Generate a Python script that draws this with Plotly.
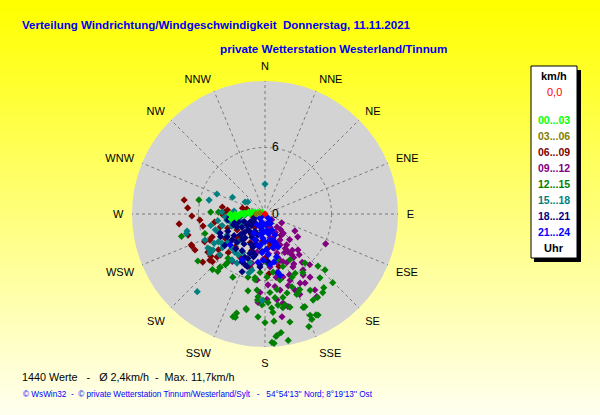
import plotly.graph_objects as go

# ---------------- data (direction in degrees clockwise from N, speed km/h) ----------------
compass = ["N", "NNE", "NE", "ENE", "E", "ESE", "SE", "SSE",
           "S", "SSW", "SW", "WSW", "W", "WNW", "NW", "NNW"]
compass_deg = [0, 22.5, 45, 67.5, 90, 112.5, 135, 157.5,
               180, 202.5, 225, 247.5, 270, 292.5, 315, 337.5]
radial_ticks = [0, 6]

legend_labels = ["00...03", "03...06", "06...09", "09...12",
                 "12...15", "15...18", "18...21", "21...24"]

maroon_dir = [279.8, 274.5, 263.4, 268.4, 242.8, 247.3, 244.7, 227.8, 227.7, 232.5,
              279.2, 272.9, 223.5, 227.1, 229.2, 273.8, 256, 254.7, 246.3, 259,
              245.3, 246.5, 232.1, 253.9, 249.3, 268.6, 276, 284.6, 285.5, 243.4,
              227.5, 195.5, 210.2, 232.3, 230.1, 236.3, 228.1, 176.2, 165.2, 217.6,
              156, 170.2, 207.4, 229.6, 240.3, 142.7, 175, 186.1, 160.3, 264.7, 260.9,
              200, 215, 190, 180, 222, 238]
maroon_spd = [7.4, 7.0, 7.8, 6.6, 7.1, 7.2, 5.5, 6.4, 5.5, 5.3,
              3.9, 3.6, 4.8, 3.4, 2.6, 1.4, 1.1, 7.2, 7.2, 5.7,
              6.0, 5.2, 6.2, 4.2, 3.6, 3.8, 3.4, 2.1, 1.7, 1.2,
              1.5, 5.0, 4.5, 7.1, 6.5, 6.2, 5.8, 5.4, 4.9, 1.5,
              1.8, 2.7, 2.9, 3.2, 2.9, 2.4, 3.1, 2.5, 2.7, 5.9, 4.6,
              3.5, 2.2, 1.8, 4.0, 4.0, 4.2]

purple_dir = [119.5, 116.2, 137.5, 143.1, 145.8, 144.5, 147.9, 146.7, 156.6, 156.5,
              168.8, 172.2, 186.9, 183.6, 184.5, 178.7, 170.6, 168.6, 172.1, 166.1,
              158.5, 159.3, 164.1, 168.5, 174.6, 162, 155.8, 152.2, 152.9, 162.9,
              166.4, 150, 152.2, 159, 137.3, 161.6, 117.9, 136.5, 136.1, 166.2,
              182.5, 194.9, 214.5, 191.9, 124.9, 154.2, 149.5, 148.8, 146.6, 146.6,
              163.5, 159.4, 161.6, 150.9, 141, 130.6, 138.6, 142.4, 177.6, 153.1, 149.9,
              150, 158, 165, 145, 170, 155, 140, 162, 175, 148, 135, 168]
purple_spd = [3.1, 6.1, 4.4, 4.1, 6.1, 7.0, 8.8, 8.2, 7.9, 7.5,
              7.0, 6.6, 6.0, 7.1, 8.0, 7.7, 9.4, 8.2, 7.8, 8.6,
              7.4, 6.4, 5.9, 5.4, 4.8, 4.4, 4.8, 5.4, 3.9, 3.7,
              3.1, 2.7, 1.9, 1.3, 1.6, 0.9, 1.7, 2.4, 3.2, 4.5,
              4.1, 4.6, 5.2, 3.5, 3.6, 3.1, 3.6, 4.0, 4.4, 4.7,
              4.1, 4.6, 2.3, 1.9, 2.4, 0.8, 6.1, 5.5, 6.4, 7.0, 7.2,
              5.2, 5.9, 3.2, 3.4, 5.8, 3.0, 4.8, 6.8, 3.6, 6.5, 2.0, 2.2]

green_dir = [282, 255, 252, 235, 237, 220, 219.5, 207, 196, 196,
             191, 185, 180, 176, 175.4, 174.9, 176.9, 176, 172.3, 169.6,
             169.2, 167.6, 165, 167, 157.8, 156, 158.7, 156, 152.3, 150.8,
             143.7, 141.4, 135.4, 134.5, 133, 139.3, 155.3, 158.4, 164.4, 171,
             176.4, 167.2, 156.8, 147.2, 140.8, 153, 184.8, 188.6, 178.2, 172.1,
             161.2, 165.4, 177.7, 151.5, 205.6, 195.1, 186, 181.3, 192.5, 191.3,
             197.3, 183.9, 175.2, 174.3, 156.7, 153.2, 147.8, 149.4, 157.3, 171.9,
             178, 173.2, 167.9, 159.7, 181.9, 272, 272.4, 223.4, 220.3, 188.9,
             184.8, 217.6, 220, 218]
green_spd = [6.1, 7.8, 5.7, 7.4, 5.9, 6.3, 6.7, 6.4, 9.7, 9.3,
             8.8, 7.8, 9.8, 8.5, 8.9, 11.1, 11.6, 11.7, 10.8, 11.6,
             8.6, 8.4, 8.7, 10.0, 9.1, 10.0, 10.9, 10.4, 10.3, 8.9,
             8.8, 8.5, 8.7, 6.7, 7.4, 7.6, 7.5, 7.8, 7.4, 6.9,
             7.1, 6.1, 6.2, 6.3, 5.7, 6.0, 5.3, 6.0, 5.7, 5.3,
             5.0, 4.3, 4.4, 4.7, 4.6, 5.9, 6.9, 7.8, 7.1, 8.7,
             9.7, 9.3, 9.7, 11.0, 9.1, 10.2, 8.9, 8.0, 7.7, 8.3,
             8.0, 7.6, 7.7, 7.0, 8.2, 4.9, 4.2, 6.9, 6.3, 5.8,
             7.5, 5.5, 5.2, 5.8]

teal_dir = [284, 292.6, 297.3, 301, 275.5, 0, 221.1, 257.7, 239.2, 234.7,
            246.6, 239.2, 241.1, 232.9, 224.1, 224, 227.6, 230.5, 245.1, 250.8,
            257.1, 262.9, 261, 218.3, 210.1, 231.7, 215.7, 209.7, 235.3, 213.4,
            197, 193.1, 195.2, 182, 305, 272.7, 267, 209, 252.3, 256,
            255, 248, 262, 240, 228, 250, 236, 244, 222, 258, 266, 270]
teal_spd = [5.2, 4.7, 3.3, 2.1, 2.8, 2.7, 9.3, 7.2, 6.0, 6.1,
            5.9, 4.9, 3.9, 4.2, 4.3, 3.5, 2.8, 2.0, 2.8, 2.2,
            3.2, 2.9, 3.5, 4.4, 4.0, 4.9, 5.1, 5.1, 5.7, 4.4,
            4.6, 5.2, 5.5, 7.8, 1.9, 3.9, 1.8, 1.9, 4.7, 7.3,
            4.0, 4.5, 4.3, 5.3, 5.5, 3.2, 4.7, 2.4, 3.0, 5.0, 3.6, 2.2]

navy_dir = [230, 219.8, 209.5, 219.8, 238.6, 241.9, 248.2, 204.4, 198.4, 197.9,
            198.9, 204.9, 205.6, 260.8, 265.1, 263.2, 201.1, 201.6, 193.7, 184.5,
            185.6, 201, 200, 245, 221.5, 238.8, 247.1, 251, 198.8, 185.4,
            201.8, 190.6, 226.7, 253.5, 231.8, 199.1, 176.4,
            215, 225, 235, 245, 210, 230, 240, 250, 255, 220, 212, 228, 236,
            205, 195, 190, 243, 232]
navy_spd = [2.9, 2.8, 2.4, 2.1, 1.9, 1.5, 1.0, 1.1, 2.0, 2.9,
            3.6, 4.3, 4.8, 3.4, 3.2, 2.3, 4.3, 5.6, 3.8, 3.4,
            4.6, 3.8, 3.2, 2.8, 3.1, 4.0, 4.4, 3.0, 5.0, 4.8,
            4.9, 1.5, 2.1, 2.5, 3.8, 2.5, 4.3,
            3.3, 3.6, 3.4, 3.7, 1.8, 1.6, 2.4, 2.0, 2.8, 4.1, 3.9, 2.5, 1.2,
            3.0, 4.0, 3.0, 4.5, 4.6]

blue_dir = [231.3, 190.3, 193.4, 180, 169.1, 166.8, 175.8, 184.4, 188.3, 167.4,
            166.2, 154.5, 172.9, 190.6, 156.4, 216, 161.6, 146.3, 140.2, 186,
            162.9, 158.5, 169.4, 206.6, 228.5, 192.7, 174.4, 236, 201,
            175, 185, 170, 160, 178, 195, 200, 165, 182, 150, 210, 188]
blue_spd = [0.6, 1.0, 1.9, 2.5, 2.4, 3.1, 3.7, 3.5, 4.4, 5.4,
            5.7, 2.1, 1.5, 1.5, 1.6, 1.2, 0.85, 0.3, 0.7, 1.7,
            2.5, 3.2, 4.4, 4.6, 4.2, 2.9, 4.6, 0.3, 2.5,
            1.0, 2.2, 1.8, 2.8, 3.2, 1.3, 0.8, 4.0, 4.2, 1.0, 2.0, 2.8]

lime_dir = [266.5, 270, 267.9, 272.5, 272.9, 276.7, 278.7, 281.3, 286, 303.7,
            262.1, 264.6, 265.4, 270, 267.3, 270, 261.6]
lime_spd = [3.0, 2.7, 2.4, 2.1, 1.8, 1.5, 1.2, 0.9, 0.66, 0.32,
            2.6, 2.9, 2.3, 1.35, 1.9, 3.15, 3.1]

olive_dir = [281, 270]
olive_spd = [0.46, 0.8]

calm_dir = [0]
calm_spd = [0.0]

# ---------------- styling ----------------
W, H = 600, 415
cx, cy, R = 265, 214, 133
FONT = "Arial, Liberation Sans, sans-serif"
TITLE_BLUE = "#0000F0"
GRID = "#7A7A7A"

groups = [
    (maroon_dir, maroon_spd, "#800000"),
    (purple_dir, purple_spd, "#800080"),
    (green_dir, green_spd, "#008000"),
    (teal_dir, teal_spd, "#008080"),
    (navy_dir, navy_spd, "#000080"),
    (blue_dir, blue_spd, "#0000FF"),
    (lime_dir, lime_spd, "#00FF00"),
    (olive_dir, olive_spd, "#808000"),
    (calm_dir, calm_spd, "#FF0000"),
]
legend_colors = ["#00FF00", "#808000", "#800000", "#800080",
                 "#008000", "#008080", "#000080", "#0000FF"]

fig = go.Figure()
for d, s, c in groups:
    fig.add_trace(go.Scatterpolar(
        r=s, theta=d, mode="markers",
        marker=dict(symbol="diamond", size=5.5, color=c, line=dict(width=0)),
        hoverinfo="skip"))


def px(x):
    return x / W


def py(y):
    return 1 - y / H


shapes = []
# background gradient yellow -> pale yellow
N = 60
for i in range(N):
    t = i / (N - 1)
    b = int(round(0 + 238 * t))
    shapes.append(dict(type="rect", xref="paper", yref="paper",
                       x0=0, x1=1, y0=1 - (i + 1) / N, y1=1 - i / N + 0.002,
                       fillcolor=f"rgb(255,255,{b})", line=dict(width=0),
                       layer="below"))
# legend box with shadow
shapes.append(dict(type="rect", xref="paper", yref="paper",
                   x0=px(534), x1=px(581), y0=py(262), y1=py(70),
                   fillcolor="black", line=dict(width=0)))
shapes.append(dict(type="rect", xref="paper", yref="paper",
                   x0=px(531), x1=px(577), y0=py(258), y1=py(66),
                   fillcolor="white", line=dict(color="black", width=1)))

ann = []
ann.append(dict(text="<b>Verteilung Windrichtung/Windgeschwindigkeit  Donnerstag, 11.11.2021</b>",
                x=px(20), y=py(25), xanchor="left", yanchor="middle",
                font=dict(family=FONT, size=11.55, color=TITLE_BLUE)))
ann.append(dict(text="<b>private Wetterstation Westerland/Tinnum</b>",
                x=px(218), y=py(49), xanchor="left", yanchor="middle",
                font=dict(family=FONT, size=11.7, color=TITLE_BLUE)))

lx = px(554)
ann.append(dict(text="<b>km/h</b>", x=lx, y=py(76), xanchor="center", yanchor="middle",
                font=dict(family=FONT, size=11, color="black")))
ann.append(dict(text="0,0", x=lx, y=py(92), xanchor="center", yanchor="middle",
                font=dict(family=FONT, size=11, color="#FF0000")))
for i, (lab, col) in enumerate(zip(legend_labels, legend_colors)):
    ann.append(dict(text=f"<b>{lab}</b>", x=lx, y=py(119.5 + 16 * i),
                    xanchor="center", yanchor="middle",
                    font=dict(family=FONT, size=10.5, color=col)))
ann.append(dict(text="<b>Uhr</b>", x=lx, y=py(247.5), xanchor="center", yanchor="middle",
                font=dict(family=FONT, size=11, color="black")))

ann.append(dict(text="1440 Werte   -   Ø 2,4km/h  -  Max. 11,7km/h",
                x=px(20), y=py(377), xanchor="left", yanchor="middle",
                font=dict(family=FONT, size=10.8, color="black")))
ann.append(dict(text="© WsWin32  -  © private Wetterstation Tinnum/Westerland/Sylt   -   54°54'13'' Nord; 8°19'13'' Ost",
                x=px(21), y=py(394), xanchor="left", yanchor="middle",
                font=dict(family=FONT, size=8.2, color="#0000FF")))
for a in ann:
    a.update(xref="paper", yref="paper", showarrow=False)

fig.update_layout(
    width=W, height=H,
    margin=dict(l=0, r=0, t=0, b=0),
    paper_bgcolor="#FFFF00",
    showlegend=False,
    shapes=shapes,
    annotations=ann,
    polar=dict(
        domain=dict(x=[(cx - R) / W, (cx + R) / W],
                    y=[(H - cy - R) / H, (H - cy + R) / H]),
        bgcolor="#D3D3D3",
        angularaxis=dict(
            direction="clockwise", rotation=90,
            tickmode="array", tickvals=compass_deg, ticktext=compass,
            showline=False, ticks="outside", ticklen=6,
            tickcolor="rgba(0,0,0,0)",
            gridcolor=GRID, griddash="3px,3px", gridwidth=1,
            tickfont=dict(family=FONT, size=11, color="black"),
        ),
        radialaxis=dict(
            range=[0, 12], angle=90, tickangle=90, side="clockwise",
            tickmode="array", tickvals=radial_ticks,
            ticktext=[str(v) for v in radial_ticks],
            showline=False, ticks="outside", ticklen=4,
            tickcolor="rgba(0,0,0,0)", layer="above traces",
            gridcolor=GRID, griddash="3px,3px", gridwidth=1,
            tickfont=dict(family=FONT, size=12, color="black"),
        ),
    ),
)

fig.write_html("out.html", config={"displayModeBar": False},
               post_script="document.body.style.margin='0px';")
